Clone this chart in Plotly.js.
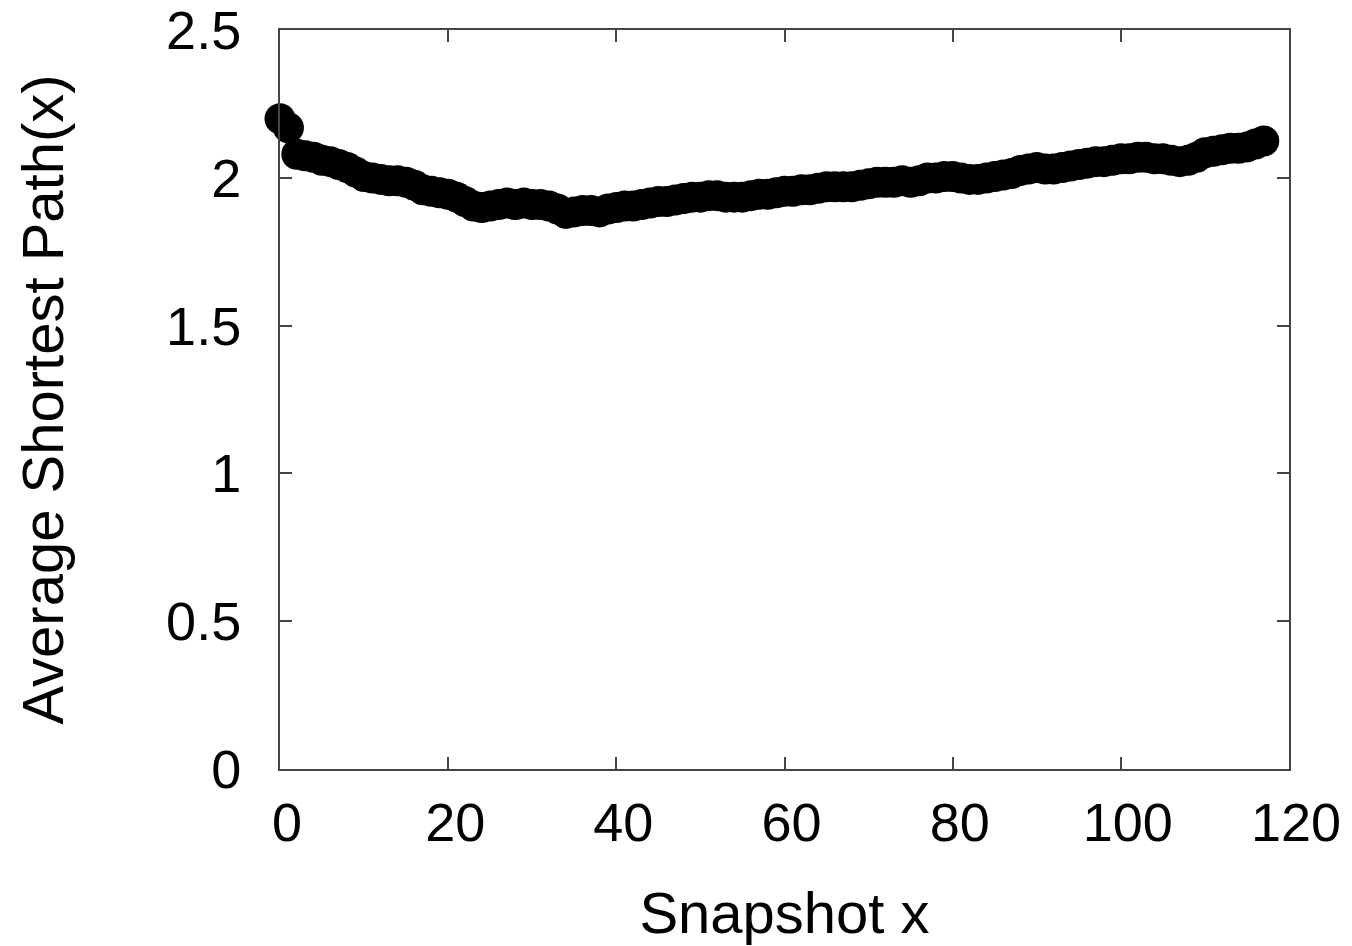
<!DOCTYPE html>
<html>
<head>
<meta charset="utf-8">
<script src="https://cdn.plot.ly/plotly-3.0.1.min.js"></script>
<style>html,body{margin:0;padding:0;background:#fff;}#chart{width:1352px;height:946px;}</style>
</head>
<body>
<div id="chart"></div>
<script>
var snapshots = [];
for (var i = 0; i <= 117; i++) snapshots.push(i);
var avgShortestPath = [
  2.20, 2.17, 2.08, 2.075, 2.07, 2.06, 2.055, 2.045, 2.035, 2.02,
  2.005, 2.00, 1.995, 1.99, 1.99, 1.985, 1.975, 1.96, 1.955, 1.95,
  1.945, 1.935, 1.92, 1.905, 1.90, 1.905, 1.91, 1.915, 1.91, 1.915,
  1.91, 1.91, 1.905, 1.895, 1.88, 1.885, 1.89, 1.89, 1.885, 1.895,
  1.90, 1.905, 1.905, 1.91, 1.915, 1.92, 1.92, 1.925, 1.93, 1.935,
  1.935, 1.94, 1.94, 1.935, 1.935, 1.935, 1.94, 1.945, 1.945, 1.95,
  1.955, 1.955, 1.96, 1.96, 1.965, 1.97, 1.97, 1.97, 1.97, 1.975,
  1.98, 1.985, 1.985, 1.985, 1.99, 1.985, 1.99, 2.00, 2.00, 2.005,
  2.005, 2.00, 1.995, 1.995, 2.00, 2.005, 2.01, 2.015, 2.025, 2.03,
  2.035, 2.03, 2.03, 2.035, 2.04, 2.045, 2.05, 2.055, 2.055, 2.06,
  2.065, 2.065, 2.07, 2.07, 2.065, 2.065, 2.06, 2.055, 2.06, 2.07,
  2.085, 2.09, 2.095, 2.10, 2.10, 2.105, 2.115, 2.125
];
var xTicks = [0, 20, 40, 60, 80, 100, 120];
var yTicks = [0, 0.5, 1, 1.5, 2, 2.5];
var yTickText = ['0', '0.5', '1', '1.5', '2', '2.5'];

var fam = 'Liberation Sans, Arial, Helvetica, sans-serif';
var tickFont = {family: fam, size: 54, color: '#000'};
var titleFont = {family: fam, size: 58, color: '#000'};

var trace = {
  x: snapshots,
  y: avgShortestPath,
  type: 'scatter',
  mode: 'markers',
  cliponaxis: false,
  marker: {symbol: 'circle', size: 31, color: '#000', line: {width: 0}},
  showlegend: false,
  hoverinfo: 'x+y'
};

var layout = {
  width: 1352,
  height: 946,
  margin: {l: 280, r: 63, t: 30, b: 177, pad: 0},
  paper_bgcolor: '#fff',
  plot_bgcolor: '#fff',
  font: tickFont,
  showlegend: false,
  xaxis: {
    range: [0, 120],
    tickvals: xTicks,
    ticktext: xTicks.map(String),
    ticks: 'inside',
    ticklen: 12,
    tickwidth: 2,
    tickcolor: '#444',
    showline: true,
    linecolor: '#444',
    linewidth: 2,
    mirror: 'ticks',
    showgrid: false,
    zeroline: false,
    tickfont: tickFont,
    ticklabelstandoff: 5,
    ticklabelshift: 7,
    title: {text: 'Snapshot x', font: titleFont, standoff: 42}
  },
  yaxis: {
    range: [0, 2.5005],
    tickvals: yTicks,
    ticktext: yTickText,
    ticks: 'inside',
    ticklen: 12,
    tickwidth: 2,
    tickcolor: '#444',
    showline: true,
    linecolor: '#444',
    linewidth: 2,
    mirror: 'ticks',
    showgrid: false,
    zeroline: false,
    tickfont: tickFont,
    ticklabelstandoff: 26,
    ticklabeloverflow: 'allow',
    title: {text: 'Average Shortest Path(x)', font: titleFont, standoff: 84}
  }
};

Plotly.newPlot('chart', [trace], layout, {displayModeBar: false, staticPlot: true});
</script>
</body>
</html>
